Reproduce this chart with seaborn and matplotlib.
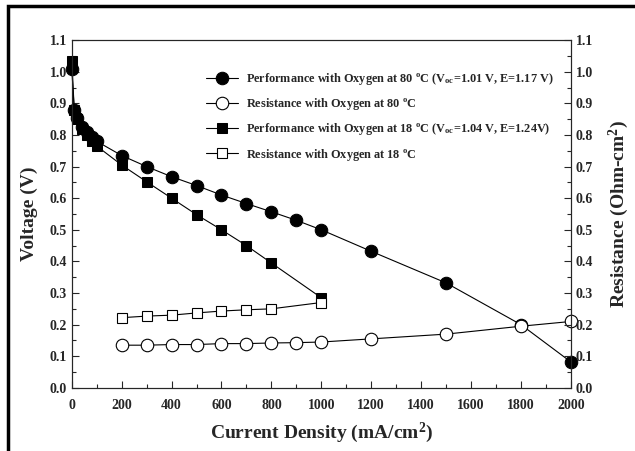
import pandas as pd
import matplotlib
matplotlib.use("Agg")
import matplotlib.pyplot as plt
import seaborn as sns
from matplotlib.patches import Rectangle
from matplotlib.ticker import MultipleLocator

# data
cd_80 = [0, 10, 20, 40, 60, 80, 100, 200, 300, 400, 500, 600, 700, 800, 900, 1000, 1200, 1500, 1800, 2000]
v_80 = [1.01, 0.88, 0.855, 0.825, 0.81, 0.795, 0.78, 0.735, 0.70, 0.668, 0.64, 0.61, 0.583, 0.557, 0.53, 0.50, 0.432, 0.332, 0.20, 0.082]

cd_18 = [0, 10, 20, 40, 60, 80, 100, 200, 300, 400, 500, 600, 700, 800, 1000]
v_18 = [1.035, 0.88, 0.85, 0.82, 0.80, 0.78, 0.765, 0.705, 0.652, 0.60, 0.548, 0.50, 0.45, 0.395, 0.285]

rcd_80 = [200, 300, 400, 500, 600, 700, 800, 900, 1000, 1200, 1500, 1800, 2000]
r_80 = [0.135, 0.135, 0.137, 0.137, 0.140, 0.140, 0.142, 0.143, 0.145, 0.155, 0.170, 0.195, 0.21]

rcd_18 = [200, 300, 400, 500, 600, 700, 800, 1000]
r_18 = [0.222, 0.227, 0.230, 0.237, 0.243, 0.247, 0.250, 0.270]

labels = [
    r"Performance with Oxygen at 80 $^{\mathrm{o}}$C (V$_{\mathrm{oc}}$=1.01 V, E=1.17 V)",
    r"Resistance with Oxygen at 80 $^{\mathrm{o}}$C",
    r"Performance with Oxygen at 18 $^{\mathrm{o}}$C (V$_{\mathrm{oc}}$=1.04 V, E=1.24V)",
    r"Resistance with Oxygen at 18 $^{\mathrm{o}}$C",
]

sns.set_style("ticks")
plt.rcParams['font.family'] = ['Liberation Serif', 'DejaVu Serif']
plt.rcParams['font.weight'] = 'bold'
plt.rcParams['mathtext.fontset'] = 'custom'
plt.rcParams['mathtext.rm'] = 'Liberation Serif:bold'
plt.rcParams['mathtext.it'] = 'Liberation Serif:bold'

fig = plt.figure(figsize=(6.35, 4.51), dpi=100)
ax = fig.add_axes([0.113, 0.14, 0.786, 0.771])

common = dict(ax=ax, color='black', lw=0.8, clip_on=False)
sns.lineplot(x=cd_80, y=v_80, marker='o', markersize=9,
             markerfacecolor='black', markeredgecolor='black', label=labels[0], **common)
sns.lineplot(x=rcd_80, y=r_80, marker='o', markersize=9,
             markerfacecolor='white', markeredgecolor='black', markeredgewidth=0.8, label=labels[1], **common)
sns.lineplot(x=cd_18, y=v_18, marker='s', markersize=7,
             markerfacecolor='black', markeredgecolor='black', label=labels[2], **common)
sns.lineplot(x=rcd_18, y=r_18, marker='s', markersize=7,
             markerfacecolor='white', markeredgecolor='black', markeredgewidth=0.8, label=labels[3], **common)

ax.set_xlim(0, 2000)
ax.set_ylim(0, 1.1)
ax.xaxis.set_major_locator(MultipleLocator(200))
ax.xaxis.set_minor_locator(MultipleLocator(100))
ax.yaxis.set_major_locator(MultipleLocator(0.1))
ax.yaxis.set_minor_locator(MultipleLocator(0.05))
ax.yaxis.set_major_formatter(matplotlib.ticker.FormatStrFormatter('%.1f'))
ax.tick_params(which='both', direction='in', labelsize=10, width=0.8)
ax.tick_params(which='major', length=5)
ax.tick_params(which='minor', length=3)
ax.tick_params(axis='x', pad=8)
for s in ax.spines.values():
    s.set_linewidth(0.8)
    s.set_visible(True)

ax.set_xlabel(r"Current Density (mA/cm$^2$)", fontsize=14, fontweight='bold', labelpad=6)
ax.set_ylabel("Voltage (V)", fontsize=14, fontweight='bold', labelpad=8)

ax2 = ax.twinx()
ax2.set_ylim(0, 1.1)
ax2.yaxis.set_major_locator(MultipleLocator(0.1))
ax2.yaxis.set_minor_locator(MultipleLocator(0.05))
ax2.yaxis.set_major_formatter(matplotlib.ticker.FormatStrFormatter('%.1f'))
ax2.tick_params(which='both', direction='in', labelsize=10, width=0.8)
ax2.tick_params(which='major', length=5)
ax2.tick_params(which='minor', length=3)
ax2.set_ylabel(r"Resistance (Ohm-cm$^2$)", fontsize=14, fontweight='bold', labelpad=10)

leg = ax.legend(loc='upper left', bbox_to_anchor=(0.26, 0.925), frameon=False,
                fontsize=8.8, handlelength=2.6, handletextpad=0.6, labelspacing=0.75, borderaxespad=0)

fig.patches.append(Rectangle((0.0126, -0.1), 1.2, 1.0856, transform=fig.transFigure,
                             fill=False, edgecolor='black', lw=2.5))

fig.savefig("out.png", dpi=100)
